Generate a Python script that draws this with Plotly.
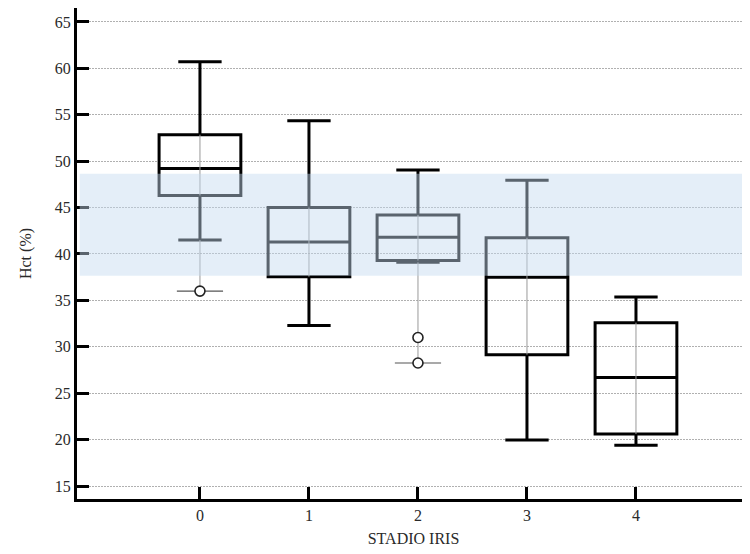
import plotly.graph_objects as go

categories = [0, 1, 2, 3, 4]
q1 = [46.3, 37.55, 39.3, 29.15, 20.6]
median = [49.2, 41.3, 41.8, 37.5, 26.7]
q3 = [52.85, 45.0, 44.2, 41.75, 32.6]
lower_whisker = [41.5, 32.3, 39.1, 19.95, 19.4]
upper_whisker = [60.7, 54.35, 49.05, 47.95, 35.35]
range_min = [36.0, 32.3, 28.25, 19.95, 19.4]
range_max = [60.7, 54.35, 49.05, 47.95, 35.35]
outlier_x = [0, 2, 2]
outlier_y = [36.0, 31.0, 28.25]
band_low, band_high = 37.65, 48.65
y_ticks = [15, 20, 25, 30, 35, 40, 45, 50, 55, 60, 65]

fig = go.Figure()

for i, c in enumerate(categories):
    fig.add_trace(go.Box(
        x=[c], q1=[q1[i]], median=[median[i]], q3=[q3[i]],
        lowerfence=[lower_whisker[i]], upperfence=[upper_whisker[i]],
        width=0.75, whiskerwidth=0.53, boxpoints=False,
        fillcolor="rgba(0,0,0,0)", line=dict(color="black", width=3),
        showlegend=False))

# thin grey range line: inside the box and beyond the whiskers (to outliers)
seg_x, seg_y = [], []
cap_x, cap_y = [], []
for i, c in enumerate(categories):
    seg_x += [c, c, None]
    seg_y += [q1[i], q3[i], None]
    if range_min[i] < lower_whisker[i]:
        seg_x += [c, c, None]
        seg_y += [range_min[i], lower_whisker[i], None]
        cap_x.append(c)
        cap_y.append(range_min[i])
    if range_max[i] > upper_whisker[i]:
        seg_x += [c, c, None]
        seg_y += [upper_whisker[i], range_max[i], None]
        cap_x.append(c)
        cap_y.append(range_max[i])
fig.add_trace(go.Scatter(
    x=seg_x, y=seg_y, mode="lines", line=dict(color="#999999", width=1),
    showlegend=False, hoverinfo="skip", connectgaps=False))
fig.add_trace(go.Scatter(
    x=cap_x, y=cap_y, mode="markers",
    marker=dict(symbol="line-ew", size=33, line=dict(color="#555", width=1.2)),
    showlegend=False, hoverinfo="skip"))

fig.add_trace(go.Scatter(
    x=outlier_x, y=outlier_y, mode="markers",
    marker=dict(symbol="circle", size=10, color="white",
                line=dict(color="#222", width=1.6)),
    showlegend=False))

fig.add_shape(type="rect", xref="x domain", yref="y",
              x0=0.004, x1=1, y0=band_low, y1=band_high,
              fillcolor="rgba(196,217,239,0.46)", line=dict(width=0),
              layer="above")

font_family = "Liberation Serif, Times New Roman, serif"
fig.update_layout(
    width=742, height=546,
    margin=dict(l=69, r=0, t=0, b=55),
    paper_bgcolor="white", plot_bgcolor="white",
    font=dict(family=font_family, size=16, color="#2a2a2a"),
    showlegend=False,
)
fig.update_xaxes(
    range=[-1.128, 5.046], tickvals=categories, ticktext=[str(c) for c in categories],
    ticks="inside", ticklen=12, tickwidth=2.5, tickcolor="black",
    tickfont=dict(family=font_family, size=16),
    showline=True, linecolor="black", linewidth=3, showgrid=False, zeroline=False,
    automargin=False,
    title=dict(text="STADIO IRIS", standoff=10, font=dict(size=16, family=font_family)),
)
fig.update_yaxes(
    range=[13.6, 66.5], tickvals=y_ticks,
    ticks="inside", ticklen=12, tickwidth=2.5, tickcolor="black",
    tickfont=dict(family=font_family, size=16),
    showline=True, linecolor="black", linewidth=3,
    showgrid=True, gridcolor="#b0b0b0", griddash="2px,1px", gridwidth=1, zeroline=False,
    automargin=False,
    title=dict(text="Hct (%)", standoff=20, font=dict(size=16, family=font_family)),
)

fig.write_html("out.html")
